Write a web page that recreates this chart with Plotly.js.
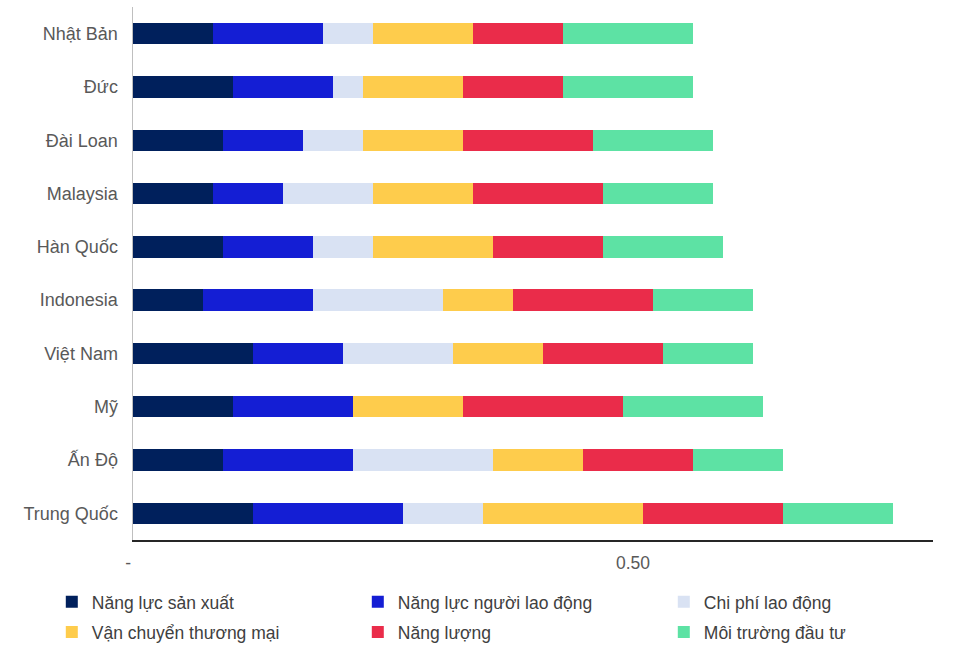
<!DOCTYPE html>
<html>
<head>
<meta charset="utf-8">
<script src="https://cdn.plot.ly/plotly-3.0.1.min.js"></script>
<style>
  html, body { margin: 0; padding: 0; background: #fff; }
  #chart { width: 979px; height: 657px; }
</style>
</head>
<body>
<div id="chart"></div>
<script>
// pays, du haut vers le bas
var pays = ['Nhật Bản', 'Đức', 'Đài Loan', 'Malaysia', 'Hàn Quốc',
            'Indonesia', 'Việt Nam', 'Mỹ', 'Ấn Độ', 'Trung Quốc'];

// valeurs
var nangLucSanXuat   = [0.08, 0.10, 0.09, 0.08, 0.09, 0.07, 0.12, 0.10, 0.09, 0.12];
var nangLucNguoiLD   = [0.11, 0.10, 0.08, 0.07, 0.09, 0.11, 0.09, 0.12, 0.13, 0.15];
var chiPhiLD         = [0.05, 0.03, 0.06, 0.09, 0.06, 0.13, 0.11, 0.00, 0.14, 0.08];
var vanChuyenTM      = [0.10, 0.10, 0.10, 0.10, 0.12, 0.07, 0.09, 0.11, 0.09, 0.16];
var nangLuong        = [0.09, 0.10, 0.13, 0.13, 0.11, 0.14, 0.12, 0.16, 0.11, 0.14];
var moiTruongDauTu   = [0.13, 0.13, 0.12, 0.11, 0.12, 0.10, 0.09, 0.14, 0.09, 0.11];

var xTickVals = [0, 0.5];
var xTickText = ['-\u00a0\u00a0', '0.50'];

var series = [
    { name: 'Năng lực sản xuất',        x: nangLucSanXuat, color: '#00205C', legend: 'legend' },
    { name: 'Năng lực người lao động',  x: nangLucNguoiLD, color: '#141ED4', legend: 'legend' },
    { name: 'Chi phí lao động',         x: chiPhiLD,       color: '#D9E2F3', legend: 'legend' },
    { name: 'Vận chuyển thương mại',    x: vanChuyenTM,    color: '#FECC4C', legend: 'legend2' },
    { name: 'Năng lượng',               x: nangLuong,      color: '#EA2C4A', legend: 'legend2' },
    { name: 'Môi trường đầu tư',        x: moiTruongDauTu, color: '#5DE2A4', legend: 'legend2' }
];

var traces = series.map(function(s) {
    return {
        type: 'bar',
        orientation: 'h',
        name: s.name,
        x: s.x,
        y: pays,
        legend: s.legend,
        marker: { color: s.color, line: { width: 0 } },
        hoverinfo: 'x+y+name'
    };
});

var legendFont = { family: 'Liberation Sans, Arial, sans-serif', size: 17.5, color: '#404040' };

var layout = {
    width: 979,
    height: 657,
    barmode: 'stack',
    bargap: 0.6,
    paper_bgcolor: '#ffffff',
    plot_bgcolor: '#ffffff',
    margin: { l: 133, r: 46, t: 7, b: 117 },
    font: { family: 'Liberation Sans, Arial, sans-serif', color: '#595959' },
    xaxis: {
        range: [0, 0.8],
        tickvals: xTickVals,
        ticktext: xTickText,
        tickfont: { size: 17.5, color: '#595959' },
        showgrid: false,
        zeroline: false,
        showline: true,
        linecolor: '#262626',
        linewidth: 1.5,
        ticks: '',
        ticklabelstandoff: 6,
        fixedrange: true
    },
    yaxis: {
        autorange: 'reversed',
        tickfont: { size: 18, color: '#595959' },
        showgrid: false,
        zeroline: false,
        showline: true,
        linecolor: '#bfbfbf',
        linewidth: 1.5,
        ticks: '',
        ticklabelstandoff: 10,
        fixedrange: true
    },
    legend: {
        orientation: 'h',
        x: -0.1015, xanchor: 'left',
        y: -0.116, yanchor: 'middle',
        entrywidth: 261,
        font: legendFont,
        traceorder: 'normal'
    },
    legend2: {
        orientation: 'h',
        x: -0.1015, xanchor: 'left',
        y: -0.173, yanchor: 'middle',
        entrywidth: 261,
        font: legendFont,
        traceorder: 'normal'
    }
};

Plotly.newPlot('chart', traces, layout, { displayModeBar: false, staticPlot: true });
</script>
</body>
</html>
